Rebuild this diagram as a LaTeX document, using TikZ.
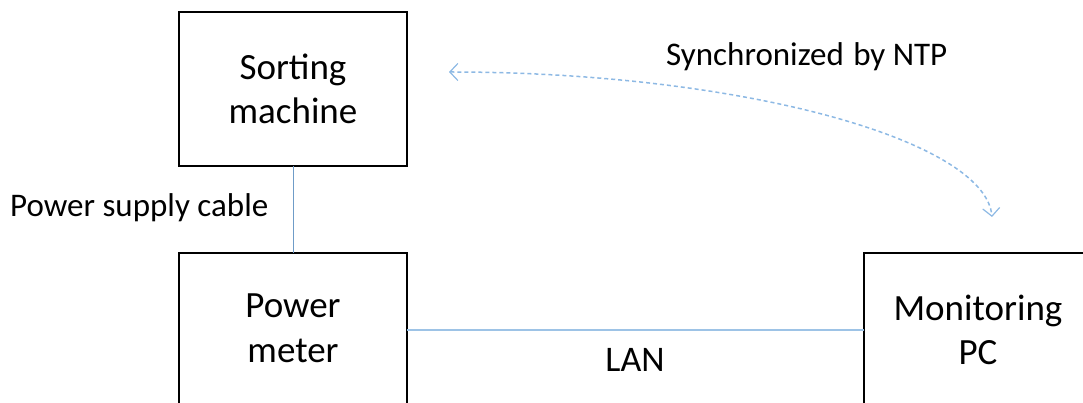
\documentclass[tikz,border=0pt]{standalone}
\usepackage{fontspec}
\setmainfont{Carlito}
\usetikzlibrary{arrows.meta}
\definecolor{cableblue}{HTML}{6F9CC8}
\definecolor{lanblue}{HTML}{9DC3E6}
\definecolor{ntpblue}{HTML}{8DB9E4}
\tikzset{
  unitbox/.style={draw=black, line width=2pt, minimum width=228pt, minimum height=154pt, inner sep=0pt, outer sep=0pt},
  boxtext/.style={font=\fontsize{37}{44}\selectfont, align=center, inner sep=0pt, anchor=base},
  smalltext/.style={font=\fontsize{33}{38}\selectfont, inner sep=0pt, anchor=base west},
  cable/.style={draw=cableblue, line width=1pt},
  lan/.style={draw=lanblue, line width=1.6pt},
  ntp/.style={draw=ntpblue, line width=1.5pt, dash pattern=on 4pt off 3pt,
    {Straight Barb[length=8pt,width=17pt,line width=1.2pt]}-{Straight Barb[length=8pt,width=17pt,line width=1.2pt]}}
}
\begin{document}
\begin{tikzpicture}[x=1pt,y=-1pt]
  \useasboundingbox (0,0) rectangle (1083,403);
  \clip (0,0) rectangle (1083,403);

  % equipment boxes
  \node[unitbox] (sm) at (293,89.5) {};
  \node[unitbox] (pm) at (293,330) {};
  \node[unitbox] (pc) at (978,330) {};

  % box captions
  \node[boxtext] (smA) at (293,80) {Sorting};
  \node[boxtext] (smB) at (293,124) {machine};
  \node[boxtext] (pmA) at (293,317) {Power};
  \node[boxtext] (pmB) at (293,362) {meter};
  \node[boxtext] (pcA) at (978,320) {Monitoring};
  \node[boxtext] (pcB) at (978,364) {PC};

  % connections
  \draw[cable] (sm.south) -- (pm.north);
  \draw[lan] (pm.east) -- (pc.west);

  \coordinate (ntpA) at (449,72);
  \coordinate (ntpB) at (992,217);
  \draw[ntp] (ntpA) .. controls (740,72) and (985,140) .. (ntpB);

  % annotations
  \node[smalltext] (psc) at (10,217) {Power supply cable};
  \node[smalltext] (sync) at (666,66) {Synchronized\kern2pt{} by NTP};
  \node[boxtext, font=\fontsize{36}{44}\selectfont] (lanlbl) at (635,371) {LAN};
\end{tikzpicture}
\end{document}
